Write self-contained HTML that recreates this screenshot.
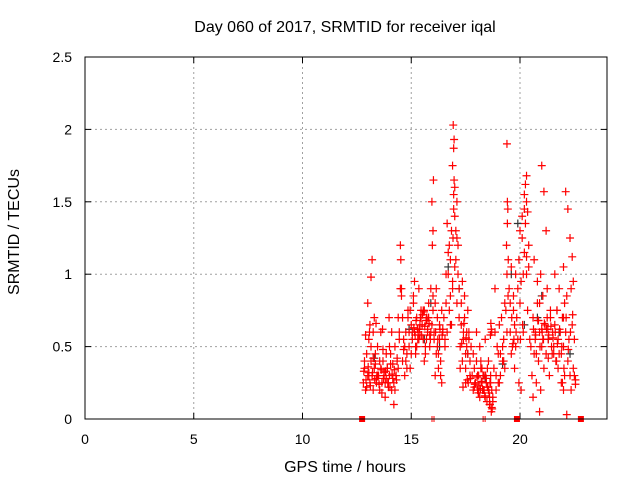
<!DOCTYPE html>
<html><head><meta charset="utf-8"><style>
body{margin:0;background:#fff}
svg{display:block;font-family:"Liberation Sans",sans-serif}
</style></head><body>
<svg id="chart" width="640" height="480">
<text x="345" y="32" text-anchor="middle" font-size="16">Day 060 of 2017, SRMTID for receiver iqal</text>
<text x="345" y="472" text-anchor="middle" font-size="16">GPS time / hours</text>
<text transform="translate(19,232) rotate(-90)" text-anchor="middle" font-size="16">SRMTID / TECUs</text>
<g id="grid"></g><g id="ticks"></g><g id="pts"></g>
<rect x="85" y="57" width="522" height="362" fill="none" stroke="#000" stroke-width="1"/>
</svg>
<script>
const xTicks=[0,5,10,15,20];
const yTicks=[0,0.5,1,1.5,2,2.5];
const yTickLabels=["0","0.5","1","1.5","2","2.5"];
const hrs=[
12.8,12.85,12.9,12.95,13.0,13.05,13.1,13.15,13.2,13.25,13.3,13.35,13.4,13.45,12.85,12.95,13.05,13.15,13.25,13.35,13.45,13.0,13.1,13.2,13.3,13.15,13.25,12.9,13.05,13.4,
13.5,13.55,13.6,13.65,13.7,13.75,13.8,13.85,13.9,13.95,14.0,14.05,14.1,14.15,14.2,14.25,14.3,14.35,14.4,14.45,13.55,13.65,13.75,13.85,13.95,14.05,14.15,14.25,14.35,14.45,13.6,13.8,14.0,14.2,14.4,13.7,13.9,14.1,14.3,14.5,
14.5,14.52,14.55,14.6,14.65,14.7,14.75,14.8,14.85,14.9,14.95,15.0,15.05,15.1,15.15,15.2,15.25,15.3,15.35,15.4,15.45,14.6,14.7,14.8,14.9,15.0,15.1,15.2,15.3,15.4,14.65,14.85,15.05,15.25,15.45,14.55,14.75,14.95,15.15,15.35,
15.5,15.55,15.6,15.65,15.7,15.75,15.8,15.85,15.9,15.95,16.0,15.6,15.7,15.8,15.9,16.0,15.95,15.97,16.0,16.02,15.55,15.65,15.75,15.85,
16.05,16.1,16.15,16.2,16.25,16.3,16.35,16.4,16.45,16.1,16.2,16.3,16.4,16.15,16.25,16.35,16.05,16.45,
16.5,16.55,16.6,16.65,16.7,16.75,16.8,16.85,16.9,16.92,16.95,16.97,17.0,17.05,17.1,17.15,17.2,16.6,16.7,16.8,16.9,17.0,17.1,17.2,16.65,16.85,16.95,17.05,17.15,16.75,16.9,17.0,16.95,16.97,16.93,16.55,16.8,17.1,
17.25,17.3,17.35,17.4,17.45,17.5,17.55,17.6,17.65,17.7,17.75,17.3,17.4,17.5,17.6,17.7,17.35,17.45,17.55,17.65,17.25,17.5,
17.8,17.85,17.9,17.95,18.0,18.05,18.1,18.15,18.2,18.25,18.3,18.35,18.4,18.45,18.5,18.55,18.6,18.65,18.7,18.75,17.85,17.95,18.05,18.15,18.25,18.35,18.45,18.55,18.65,18.75,17.9,18.1,18.3,18.5,18.7,18.0,18.2,18.4,18.6,18.68,18.72,18.62,
18.8,18.85,18.9,18.95,19.0,19.05,19.1,19.15,19.2,19.25,19.3,19.35,19.4,19.45,18.9,19.0,19.1,19.2,19.3,19.4,19.42,19.44,19.38,19.46,19.4,19.42,18.85,19.05,19.25,
19.5,19.55,19.6,19.65,19.7,19.75,19.8,19.85,19.9,19.95,20.0,20.05,20.1,20.15,20.2,20.25,20.3,20.35,20.4,20.45,19.6,19.7,19.8,19.9,20.0,20.1,20.2,20.3,20.4,20.25,20.3,20.35,20.2,20.3,20.15,19.55,19.75,19.95,20.05,
20.5,20.55,20.6,20.65,20.7,20.75,20.8,20.85,20.9,20.95,21.0,21.05,21.1,21.15,21.2,21.25,21.3,21.35,21.4,21.45,20.6,20.7,20.8,20.9,21.0,21.1,21.2,21.3,21.4,20.95,21.0,20.65,20.85,21.05,21.25,20.75,20.9,
21.5,21.55,21.6,21.65,21.7,21.75,21.8,21.85,21.9,21.95,22.0,22.05,22.1,22.15,22.2,22.25,22.3,22.35,22.4,22.45,22.5,21.6,21.7,21.8,21.9,22.0,22.1,22.2,22.3,22.4,22.0,22.02,22.05,22.0,21.55,21.75,21.95,22.15,22.35,22.5,22.55,22.45,22.55,
12.82,12.92,13.02,13.12,13.22,13.32,13.42,13.52,13.62,13.72,13.82,13.92,14.02,14.12,14.22,14.32,13.08,13.38,13.68,13.98,
15.12,15.22,15.32,15.42,15.52,15.62,15.72,15.82,15.18,15.38,15.58,15.78,15.28,15.48,15.68,15.88,16.12,16.22,16.32,16.42,
17.32,17.42,17.52,17.62,17.72,17.38,17.58,
17.92,18.02,18.12,18.22,18.32,18.42,18.52,18.62,18.08,18.18,18.28,18.38,18.48,18.58,18.68,18.64,18.66,18.7,
19.62,19.72,19.82,20.02,20.12,19.68,
20.62,20.72,20.82,20.92,21.02,21.12,21.22,21.32,21.42,21.52,21.62,21.72,21.82,21.92,22.12,22.22,22.32,22.42,21.08,21.28,21.48,21.68,21.88,22.08,22.28,22.48
];
const tec=[
0.25,0.35,0.2,0.45,0.3,0.55,0.25,0.4,0.3,0.6,0.35,0.45,0.28,0.5,0.4,0.22,0.32,0.5,0.2,0.38,0.3,0.8,0.65,1.1,0.7,0.98,0.42,0.58,0.3,0.25,
0.3,0.2,0.35,0.25,0.4,0.3,0.15,0.28,0.35,0.22,0.3,0.45,0.2,0.38,0.25,0.5,0.3,0.42,0.35,0.55,0.4,0.18,0.32,0.45,0.25,0.38,0.28,0.2,0.4,0.6,0.6,0.25,0.5,0.1,0.7,0.48,0.35,0.6,0.3,0.9,
1.2,1.1,0.85,0.4,0.55,0.3,0.6,0.45,0.7,0.5,0.35,0.65,0.55,0.8,0.6,0.45,0.7,0.55,0.9,0.65,0.75,0.7,0.5,0.35,0.6,0.45,0.85,0.5,0.62,0.58,0.48,0.75,0.6,0.5,0.7,0.9,0.4,0.75,0.95,0.55,
0.65,0.55,0.75,0.45,0.7,0.6,0.8,0.5,0.9,0.65,0.75,0.4,0.55,0.7,0.6,0.85,1.5,1.2,1.3,1.65,0.75,0.5,0.62,0.58,
0.6,0.3,0.45,0.7,0.35,0.55,0.4,0.25,0.6,0.8,0.5,0.65,0.75,0.9,0.45,0.3,0.55,0.62,
0.7,0.55,0.8,0.6,1.0,0.75,1.1,0.65,0.9,1.25,1.55,1.65,1.4,1.3,1.5,1.2,0.9,1.0,1.15,0.85,0.95,1.05,0.8,0.7,1.35,1.3,1.45,1.1,1.0,1.2,1.75,1.6,1.87,1.93,2.03,0.5,0.65,1.25,
0.5,0.65,0.4,0.55,0.7,0.35,0.6,0.45,0.55,0.3,0.5,0.8,0.6,0.45,0.75,0.4,0.95,0.85,0.5,0.6,0.35,0.25,
0.3,0.2,0.35,0.25,0.4,0.2,0.3,0.15,0.35,0.25,0.2,0.3,0.15,0.25,0.35,0.2,0.1,0.3,0.2,0.15,0.45,0.25,0.3,0.5,0.35,0.2,0.28,0.4,0.25,0.12,0.22,0.18,0.3,0.22,0.08,0.6,0.4,0.55,0.15,0.05,0.07,0.1,
0.35,0.6,0.3,0.5,0.25,0.65,0.45,0.7,0.4,0.55,0.35,0.75,0.6,0.85,0.2,0.45,0.3,0.5,0.8,1.0,1.35,1.45,1.2,1.1,1.9,1.5,0.9,0.25,0.4,
0.9,0.6,1.05,0.5,0.85,0.65,1.0,0.7,0.55,1.1,0.8,0.95,1.25,0.6,1.15,1.35,1.0,0.75,1.2,0.55,0.45,0.75,0.5,0.9,1.3,1.4,1.45,1.5,1.05,1.62,1.68,1.43,1.55,1.12,1.0,0.8,0.35,0.25,0.2,
0.5,0.3,0.7,0.45,0.55,0.25,0.8,0.4,0.6,0.2,0.5,0.85,0.35,0.65,0.45,0.9,0.55,0.3,0.75,0.5,0.15,0.6,0.95,0.05,1.75,1.57,1.3,0.42,0.7,1.0,0.62,1.1,0.68,
0.55,0.7,0.45,0.8,0.6,0.5,0.65,0.4,0.75,0.55,0.9,0.6,0.45,0.7,0.5,0.3,0.6,0.85,0.4,0.55,0.3,0.9,0.65,0.95,0.55,1.0,0.75,0.45,0.25,0.2,1.57,1.45,1.25,1.12,0.7,0.35,0.8,1.05,0.45,0.35,0.25,0.03,0.2,
0.3,0.27,0.35,0.24,0.33,0.27,0.36,0.23,0.32,0.27,0.3,0.24,0.34,0.28,0.33,0.25,0.22,0.31,0.34,0.27,
0.6,0.66,0.62,0.7,0.63,0.68,0.6,0.7,0.72,0.64,0.68,0.66,0.58,0.62,0.74,0.7,0.62,0.58,0.68,0.55,
0.6,0.55,0.62,0.58,0.52,0.66,0.56,
0.25,0.28,0.22,0.27,0.24,0.29,0.23,0.26,0.2,0.3,0.22,0.25,0.18,0.21,0.2,0.16,0.12,0.18,
0.62,0.58,0.66,0.6,0.7,0.55,
0.6,0.55,0.65,0.52,0.62,0.58,0.68,0.5,0.6,0.66,0.62,0.58,0.64,0.56,0.6,0.52,0.62,0.5,0.7,0.48,0.6,0.72,0.55,0.62,0.45,0.4
];
const blackHrs=[13.3,14.9,15.6,15.9,16.3,17.2,17.6,18.4,19.2,19.6,20.2,20.8,21.3,21.8,22.3,16.7,19.9,21.0];
const blackTec=[0.42,0.62,0.55,0.8,0.5,0.9,0.45,0.28,0.38,1.0,0.65,0.7,0.55,0.6,0.45,1.05,1.35,0.85];
const zeroMarkers=[12.74,19.86,22.8];
const zeroTicks=[16.0,18.35];

const X0=85,X1=607,Y0=419,Y1=57,XMAX=24,YMAX=2.5;
const sx=h=>X0+(X1-X0)*h/XMAX;
const sy=v=>Y0-(Y0-Y1)*v/YMAX;
const NS="http://www.w3.org/2000/svg";
function mk(tag,attrs,parent){const e=document.createElementNS(NS,tag);for(const k in attrs)e.setAttribute(k,attrs[k]);parent.appendChild(e);return e;}
const grid=document.getElementById('grid'),ticks=document.getElementById('ticks'),pts=document.getElementById('pts');
xTicks.forEach(t=>{
  const x=sx(t);
  if(t>0){const g=mk('line',{x1:x,x2:x,y1:Y1,y2:Y0,stroke:'#a0a0a0','stroke-dasharray':'2,3'},grid);
  
  }
  mk('line',{x1:x,x2:x,y1:Y0,y2:Y0-6,stroke:'#000'},ticks);
  mk('line',{x1:x,x2:x,y1:Y1,y2:Y1+6,stroke:'#000'},ticks);
  const l=mk('text',{x:x,y:Y0+25,'text-anchor':'middle','font-size':'14'},ticks);
  l.textContent=t;
  
  
});
yTicks.forEach((t,i)=>{
  const y=sy(t);
  if(t>0&&t<YMAX){const g=mk('line',{x1:X0,x2:X1,y1:y,y2:y,stroke:'#a0a0a0','stroke-dasharray':'2,3'},grid);
  
  }
  mk('line',{x1:X0,x2:X0+6,y1:y,y2:y,stroke:'#000'},ticks);
  mk('line',{x1:X1,x2:X1-6,y1:y,y2:y,stroke:'#000'},ticks);
  const l=mk('text',{x:X0-13,y:y+5,'text-anchor':'end','font-size':'14'},ticks);
  l.textContent=yTickLabels[i];
  
  
});
function plus(h,v,col){
  const x=sx(h),y=sy(v);
  const p=mk('path',{d:`M${x-4},${y}h8M${x},${y-4}v8`,stroke:col,'stroke-width':'1.2','fill':'none'},pts);
  
  
}
blackHrs.forEach((h,i)=>plus(h,blackTec[i],'#333'));
hrs.forEach((h,i)=>plus(h,tec[i],'#ff0000'));
zeroMarkers.forEach(h=>{
  const r=mk('rect',{x:sx(h)-3,y:Y0-3,width:6,height:6,fill:'#ff0000'},pts);
  
  
});
zeroTicks.forEach(h=>{
  const p=mk('path',{d:`M${sx(h)-1},${Y0-3}v6M${sx(h)+1},${Y0-3}v6`,stroke:'#ff0000'},pts);
  
  
});
</script>
</body></html>
